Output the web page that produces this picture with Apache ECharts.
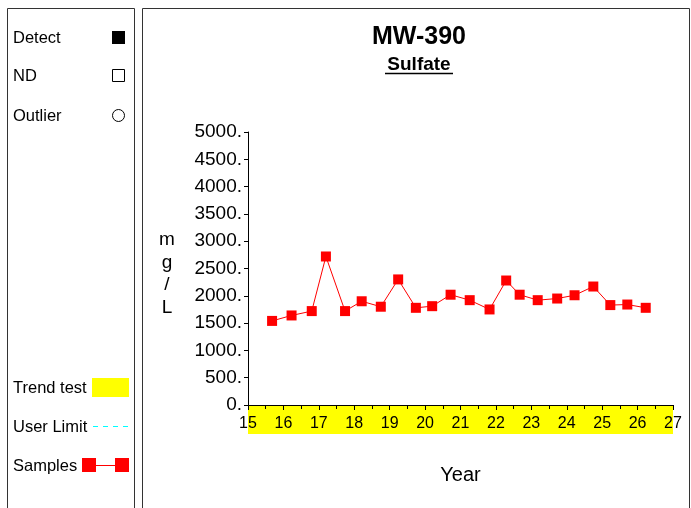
<!DOCTYPE html>
<html><head><meta charset="utf-8">
<script src="https://cdn.jsdelivr.net/npm/echarts@6/dist/echarts.min.js"></script>
<style>html,body{margin:0;padding:0;background:#fff}#c{width:691px;height:508px}</style>
</head><body><div id="c"></div>
<script>
const years = [15.68,16.23,16.80,17.20,17.74,18.21,18.75,19.24,19.74,20.20,20.72,21.26,21.82,22.29,22.67,23.18,23.73,24.22,24.75,25.23,25.71,26.23];
const sulfate = [1540,1640,1720,2720,1720,1900,1800,2300,1780,1810,2020,1920,1750,2280,2020,1920,1950,2010,2170,1830,1840,1780];
const xTicks = [15,16,17,18,19,20,21,22,23,24,25,26,27];
const yTicks = [0,500,1000,1500,2000,2500,3000,3500,4000,4500,5000];
const FONT = '"Liberation Sans", Arial, sans-serif';

const chart = echarts.init(document.getElementById('c'), null, {renderer:'canvas'});
const gridL=248, gridR=18, gridT=132, gridB=103;
chart.setOption({
  animation:false,
  backgroundColor:'#fff',
  grid:{left:gridL,right:gridR,top:gridT,bottom:gridB,containLabel:false},
  xAxis:{type:'value',min:xTicks[0],max:xTicks[xTicks.length-1],interval:1,
    axisLine:{show:true,onZero:false,lineStyle:{color:'#000',width:1}},
    axisTick:{show:true,length:5,lineStyle:{color:'#000'}},
    minorTick:{show:true,splitNumber:2,length:4,lineStyle:{color:'#000'}},
    splitLine:{show:false},
    axisLabel:{color:'#000',fontFamily:FONT,fontSize:16,margin:11,showMinLabel:true,showMaxLabel:true},
    name:'Year',nameLocation:'middle',nameGap:60,nameTextStyle:{color:'#000',fontFamily:FONT,fontSize:20}},
  yAxis:{type:'value',min:yTicks[0],max:yTicks[yTicks.length-1],interval:500,
    axisLine:{show:true,lineStyle:{color:'#000',width:1}},
    axisTick:{show:true,length:4,lineStyle:{color:'#000'}},
    splitLine:{show:false},
    axisLabel:{color:'#000',fontFamily:FONT,fontSize:19,margin:6,formatter:v=>v+'.'}},
  series:[{type:'line',data:years.map((y,i)=>[y,sulfate[i]]),
    lineStyle:{color:'#ff0000',width:1},itemStyle:{color:'#ff0000'},
    symbol:'rect',symbolSize:10,z:5}]
});

const x0 = chart.convertToPixel({gridIndex:0},[xTicks[0],0]);
const x1 = chart.convertToPixel({gridIndex:0},[xTicks[xTicks.length-1],0]);
const graphics = [
  {type:'rect',shape:{x:x0[0],y:x0[1]+1,width:x1[0]-x0[0],height:28},style:{fill:'#ffff00'},z:-1,silent:true},
  {type:'rect',shape:{x:7.5,y:8.5,width:127,height:520},style:{fill:null,stroke:'#333',lineWidth:1},z:-2},
  {type:'rect',shape:{x:142.5,y:8.5,width:547,height:520},style:{fill:null,stroke:'#333',lineWidth:1},z:-2},
  // titles
  {type:'text',style:{text:'MW-390',x:419,y:37,textAlign:'center',textVerticalAlign:'middle',font:'bold 25px '+FONT,fill:'#000'}},
  {type:'text',style:{text:'Sulfate',x:419,y:65,textAlign:'center',textVerticalAlign:'middle',font:'bold 19px '+FONT,fill:'#000'}},
  {type:'line',shape:{x1:385,y1:73.5,x2:453,y2:73.5},style:{stroke:'#000',lineWidth:1.5}},
  // y name
  {type:'text',style:{text:'m\ng\n/\nL',x:167,y:229,textAlign:'center',font:'19px '+FONT,lineHeight:22.5,fill:'#000'}},
  // legend
  {type:'text',style:{text:'Detect',x:13,y:30,font:'16.5px '+FONT,fill:'#000'}},
  {type:'rect',shape:{x:112,y:31,width:13,height:13},style:{fill:'#000'}},
  {type:'text',style:{text:'ND',x:13,y:68,font:'16.5px '+FONT,fill:'#000'}},
  {type:'rect',shape:{x:112.5,y:69.5,width:12,height:12},style:{fill:'#fff',stroke:'#000',lineWidth:1}},
  {type:'text',style:{text:'Outlier',x:13,y:108,font:'16.5px '+FONT,fill:'#000'}},
  {type:'circle',shape:{cx:118.5,cy:115.5,r:6},style:{fill:'#fff',stroke:'#000',lineWidth:1}},
  {type:'text',style:{text:'Trend test',x:13,y:380,font:'16.5px '+FONT,fill:'#000'}},
  {type:'rect',shape:{x:92,y:378,width:37,height:19},style:{fill:'#ffff00'}},
  {type:'text',style:{text:'User Limit',x:13,y:419,font:'16.5px '+FONT,fill:'#000'}},
  {type:'line',shape:{x1:93,y1:426.5,x2:129,y2:426.5},style:{stroke:'#00ffff',lineWidth:1,lineDash:[5,5]}},
  {type:'text',style:{text:'Samples',x:13,y:458,font:'16.5px '+FONT,fill:'#000'}},
  {type:'line',shape:{x1:88,y1:465.5,x2:122,y2:465.5},style:{stroke:'#ff0000',lineWidth:1}},
  {type:'rect',shape:{x:82,y:458,width:14,height:14},style:{fill:'#ff0000'}},
  {type:'rect',shape:{x:115,y:458,width:14,height:14},style:{fill:'#ff0000'}}
];
chart.setOption({graphic:graphics});
</script></body></html>
